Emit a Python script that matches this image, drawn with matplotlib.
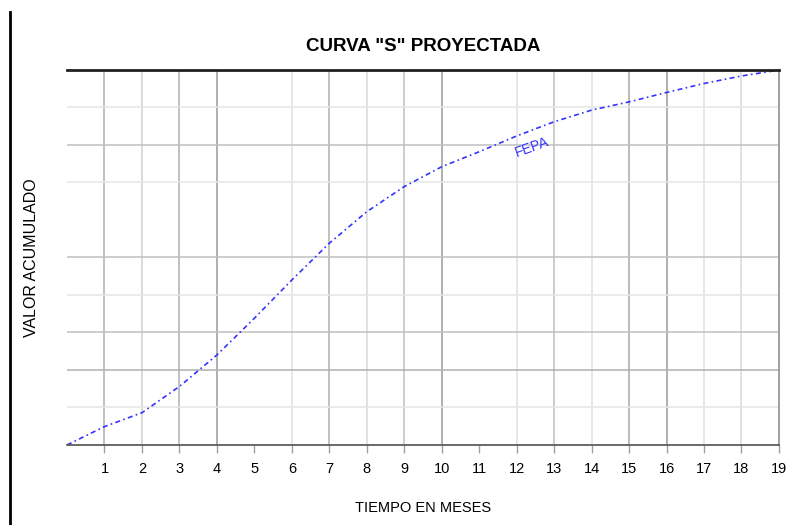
import matplotlib.pyplot as plt
from matplotlib.lines import Line2D

# Datos de la curva S (porcentaje acumulado por mes)
meses = list(range(0, 20))
avance = [0, 4.9, 8.6, 15.6, 24.0, 33.8, 44.0, 53.8, 62.2, 68.9, 74.2,
          78.2, 82.4, 86.2, 89.3, 91.5, 94.0, 96.4, 98.4, 100]

# Lineas de la cuadricula (posicion, tono)
grid_x = [(1, "#b0b0b0"), (2, "#d0d0d0"), (3, "#b0b0b0"), (4, "#9a9a9a"),
          (6, "#e0e0e0"), (7, "#b0b0b0"), (8, "#d8d8d8"), (9, "#c0c0c0"),
          (10, "#9a9a9a"), (12, "#e0e0e0"), (13, "#c0c0c0"), (14, "#e0e0e0"),
          (15, "#a8a8a8"), (16, "#9a9a9a"), (17, "#e0e0e0"), (18, "#d8d8d8")]
grid_y = [(10, "#e6e6e6"), (20, "#b0b0b0"), (30, "#c0c0c0"), (40, "#e6e6e6"),
          (50, "#c0c0c0"), (70, "#e6e6e6"), (80, "#c0c0c0"), (90, "#e6e6e6")]

plt.rcParams["font.family"] = ["Liberation Sans", "DejaVu Sans"]

fig = plt.figure(figsize=(7.93, 5.25), dpi=100)
ax = fig.add_axes([0.0845, 0.1524, 0.8978, 0.7143])

for x, c in grid_x:
    ax.axvline(x, color=c, lw=1.1, zorder=0)
for y, c in grid_y:
    ax.axhline(y, color=c, lw=1.1, zorder=0)

ax.plot(meses, avance, color="#3333ff", lw=1.2, linestyle=(0, (3, 2, 1, 2)))

ax.text(12.4, 79.5, "FEPA", color="#3333ff", fontsize=10, rotation=20,
        ha="center", va="center")

ax.set_xlim(0, 19)
ax.set_ylim(0, 100)
ax.set_xticks(range(1, 20))
ax.set_yticks([])
ax.tick_params(axis="x", length=6, width=1, color="#a0a0a0", labelsize=10.5, pad=6)

ax.spines["left"].set_visible(False)
ax.spines["top"].set_color("#202020")
ax.spines["top"].set_linewidth(2)
ax.spines["bottom"].set_color("#505050")
ax.spines["bottom"].set_linewidth(1.2)
ax.spines["right"].set_color("#909090")
ax.spines["right"].set_linewidth(1.2)

ax.set_title('CURVA "S" PROYECTADA', fontsize=13.5, fontweight="bold", pad=14)
ax.set_xlabel("TIEMPO EN MESES", fontsize=10.5, labelpad=18)
ax.set_ylabel("VALOR ACUMULADO", fontsize=11.5, labelpad=20)

# linea vertical negra a la izquierda
fig.add_artist(Line2D([0.0126, 0.0126], [0, 0.977], color="black", lw=2))

fig.savefig("out.png", dpi=100)
